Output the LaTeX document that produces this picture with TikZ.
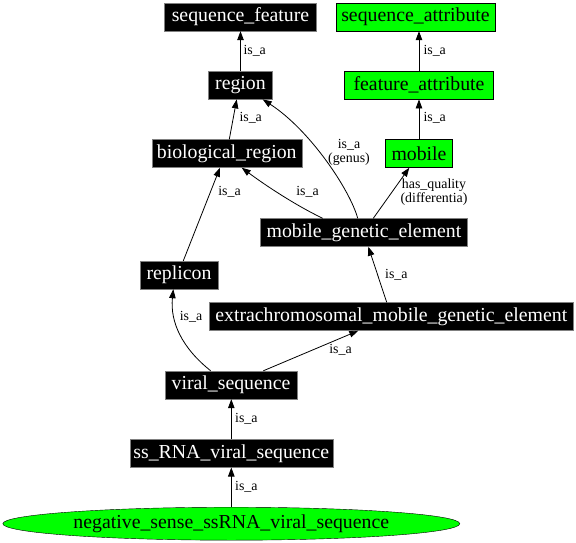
\documentclass[tikz,border=0pt]{standalone}
\usepackage{fontspec}
\setmainfont{Liberation Serif}
\usetikzlibrary{arrows.meta,shapes.geometric}
\begin{document}
\begin{tikzpicture}[x=1pt,y=-1pt,
  blk/.style={draw=gray,fill=black,text=white,font=\fontsize{19.8}{22}\selectfont,inner sep=0pt,minimum height=28pt,anchor=center},
  grn/.style={draw=black,fill=green,text=black,font=\fontsize{19.8}{22}\selectfont,inner sep=0pt,minimum height=28pt,anchor=center},
  lbl/.style={font=\fontsize{13.9}{13.5}\selectfont,inner sep=0pt,align=center},
  edge/.style={draw=black,line width=0.8pt,-{Triangle[length=9pt,width=6.5pt]}}]
\useasboundingbox (0,0) rectangle (576,543);
% nodes
\node[blk,minimum width=152pt] (sf) at (240.5,17) {sequence\_feature};
\node[grn,minimum width=159pt] (sa) at (415.5,17) {sequence\_attribute};
\node[blk,minimum width=64pt] (region) at (240.5,85.2) {region};
\node[grn,minimum width=149pt] (fa) at (419,85.2) {feature\_attribute};
\node[blk,minimum width=150pt] (br) at (226.7,153.5) {biological\_region};
\node[grn,minimum width=67pt] (mobile) at (419,153.5) {mobile};
\node[blk,minimum width=207pt] (mge) at (364,232.5) {mobile\_genetic\_element};
\node[blk,minimum width=78pt] (replicon) at (179,275) {replicon};
\node[blk,minimum width=364pt] (emge) at (391.3,316.5) {extrachromosomal\_mobile\_genetic\_element};
\node[blk,minimum width=132pt] (vs) at (231,385) {viral\_sequence};
\node[blk,minimum width=203pt] (ss) at (231.3,453.3) {ss\_RNA\_viral\_sequence};
\node[ellipse,draw=black,fill=green,inner sep=0pt,minimum width=457pt,minimum height=33pt,font=\fontsize{19.8}{22}\selectfont] (neg) at (231.3,523.7) {negative\_sense\_ssRNA\_viral\_sequence};
% edges
\draw[edge] (region.north) -- (sf.south);
\node[lbl,anchor=west] (l1) at (243.3,50.7) {is\_a};
\draw[edge] (fa.north) -- (fa.north |- sa.south);
\node[lbl,anchor=west] (l2) at (423.3,50.7) {is\_a};
\draw[edge] ([xshift=2.6pt]br.north) -- ([xshift=-3.8pt]region.south);
\node[lbl,anchor=west] (l3) at (239.3,118) {is\_a};
\draw[edge] (mobile.north) -- (mobile.north |- fa.south);
\node[lbl,anchor=west] (l4) at (423.3,118) {is\_a};
\draw[edge] ([xshift=-6.3pt]mge.north) .. controls (350,190) and (310,130) .. ([xshift=22.2pt]region.south);
\node[lbl] (l5) at (349,152.5) {is\_a\\(genus)};
\draw[edge] ([xshift=-41.3pt]mge.north) .. controls (295,205) and (265,185) .. ([xshift=15pt]br.south);
\node[lbl] (l6) at (307.5,192) {is\_a};
\draw[edge] ([xshift=9.3pt]mge.north) -- ([xshift=-9.7pt]mobile.south);
\node[lbl] (l7) at (434,192) {has\_quality\\(differentia)};
\draw[edge] ([xshift=4.3pt]replicon.north) -- ([xshift=-6.7pt]br.south);
\node[lbl] (l8) at (229.5,192) {is\_a};
\draw[edge] ([xshift=-4.6pt]emge.north) -- ([xshift=4.3pt]mge.south);
\node[lbl,anchor=west] (l9) at (385,274.3) {is\_a};
\draw[edge] ([xshift=-20.3pt]vs.north) .. controls (182,348) and (170,322) .. ([xshift=-5.7pt]replicon.south);
\node[lbl] (l10) at (191,316.7) {is\_a};
\draw[edge] ([xshift=32.3pt]vs.north) -- ([xshift=-33pt]emge.south);
\node[lbl] (l11) at (340.5,350) {is\_a};
\draw[edge] (ss.north) -- (ss.north |- vs.south);
\node[lbl,anchor=west] (l12) at (235,418.3) {is\_a};
\draw[edge] (neg.north) -- (neg.north |- ss.south);
\node[lbl,anchor=west] (l13) at (235,486.7) {is\_a};
\end{tikzpicture}
\end{document}
